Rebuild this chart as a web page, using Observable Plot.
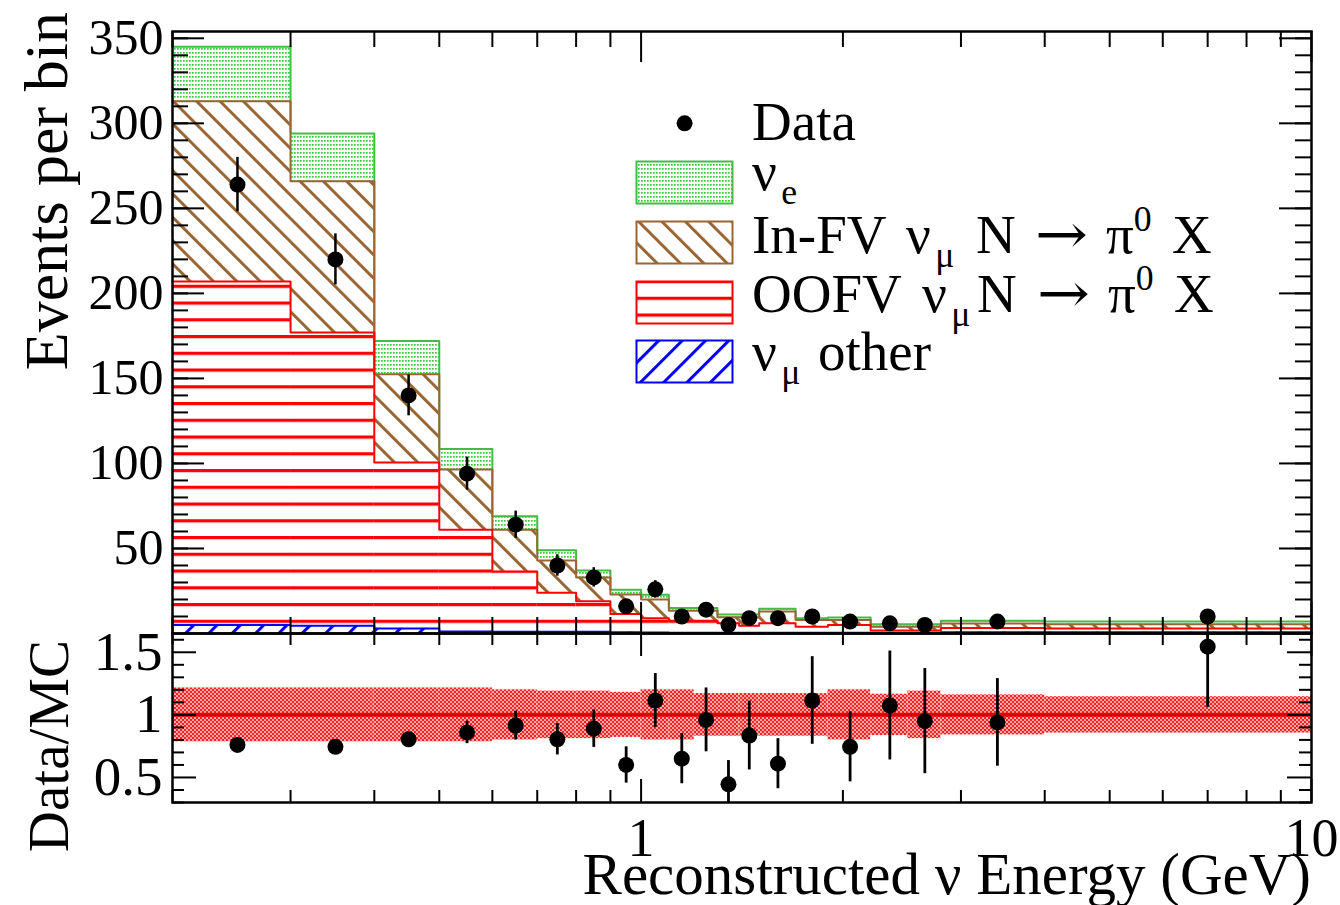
<!DOCTYPE html>
<html>
<head>
<meta charset="utf-8">
<script src="https://cdn.jsdelivr.net/npm/d3@7"></script>
<script src="https://cdn.jsdelivr.net/npm/@observablehq/plot@0.6"></script>
<style>
html, body { margin: 0; padding: 0; background: #fff; }
#wrap { position: relative; width: 1340px; height: 905px; overflow: hidden; background: #fff;
        font-family: "Liberation Serif", "Times New Roman", serif; color: #000; }
.abs { position: absolute; white-space: nowrap; line-height: 1; }
.lg { font-size: 55px; }
.sub { font-size: 0.65em; position: relative; top: 0.38em; margin-left: 0.12em; }
.sup { font-size: 0.65em; position: relative; top: -0.62em; }
.arr { font-family: "DejaVu Serif", serif; display: inline-block; transform-origin: 0 50%; transform: scaleX(1.15); }
.rot { transform-origin: 0 0; transform: rotate(-90deg); width: 600px; text-align: right; }
</style>
</head>
<body>
<div id="wrap">
  <svg width="0" height="0" style="position:absolute;left:0;top:0">
    <defs>
      <pattern id="pGreen" patternUnits="userSpaceOnUse" width="3" height="4">
        <rect x="0" y="0" width="1.7" height="1.7" fill="#33cc33"/>
      </pattern>
      <pattern id="pBrown" patternUnits="userSpaceOnUse" width="16.5" height="16.5" patternTransform="rotate(-45)">
        <rect x="0" y="0" width="3" height="16.5" fill="#996633"/>
      </pattern>
      <pattern id="pRed" patternUnits="userSpaceOnUse" width="20" height="16.75">
        <rect x="0" y="0" width="20" height="3.2" fill="#ff0000"/>
      </pattern>
      <pattern id="pBlue" patternUnits="userSpaceOnUse" width="16.5" height="16.5" patternTransform="rotate(45)">
        <rect x="0" y="0" width="3" height="16.5" fill="#0000ff"/>
      </pattern>
      <pattern id="ratioBandChecker" patternUnits="userSpaceOnUse" width="4" height="4">
        <rect x="0" y="0" width="4" height="4" fill="#ffaaaa"/>
        <rect x="0" y="0" width="2" height="2" fill="#ff2020"/>
        <rect x="2" y="2" width="2" height="2" fill="#ff2020"/>
      </pattern>
    </defs>
  </svg>
  <div id="topPlot" style="position:absolute;left:0;top:0"></div>
  <div id="bottomPlot" style="position:absolute;left:0;top:633px"></div>

  <!-- axis titles -->
  <div class="abs rot" style="left:15px;top:612px;font-size:62px">Events per bin</div>
  <div class="abs rot" style="left:20px;top:1240px;font-size:57px">Data/MC</div>
  <div class="abs" style="right:29px;top:845px;font-size:59px">Reconstructed ν Energy (GeV)</div>

  <!-- legend -->
  <svg class="abs" style="left:670px;top:109px" width="30" height="30"><circle cx="14.6" cy="14.3" r="8" fill="#000"/></svg>
  <div class="abs lg" style="left:752px;top:94px">Data</div>

  <svg class="abs" style="left:635px;top:160px" width="100" height="46"><rect x="1.5" y="1.5" width="96" height="42" fill="url(#pGreen)" stroke="#44bb44" stroke-width="2"/></svg>
  <div class="abs lg" style="left:752px;top:144px">ν<span class="sub">e</span></div>

  <svg class="abs" style="left:635px;top:220px" width="100" height="46"><rect x="1.5" y="1.5" width="96" height="42" fill="url(#pBrown)" stroke="#996633" stroke-width="2"/></svg>
  <div class="abs lg" style="left:752px;top:207px">In-FV</div>
  <div class="abs lg" style="left:906px;top:207px">ν<span class="sub">μ</span></div>
  <div class="abs lg" style="left:976px;top:207px">N</div>
  <div class="abs lg" style="left:1035px;top:207px"><span class="arr">→</span></div>
  <div class="abs lg" style="left:1106px;top:207px">π<span class="sup">0</span></div>
  <div class="abs lg" style="left:1172px;top:207px">X</div>

  <svg class="abs" style="left:635px;top:280px" width="100" height="46"><rect x="1.5" y="1.5" width="96" height="42" fill="url(#pRed)" stroke="#ff0000" stroke-width="2"/></svg>
  <div class="abs lg" style="left:752px;top:266px">OOFV</div>
  <div class="abs lg" style="left:922px;top:266px">ν<span class="sub">μ</span></div>
  <div class="abs lg" style="left:977px;top:266px">N</div>
  <div class="abs lg" style="left:1037px;top:266px"><span class="arr">→</span></div>
  <div class="abs lg" style="left:1108px;top:266px">π<span class="sup">0</span></div>
  <div class="abs lg" style="left:1174px;top:266px">X</div>

  <svg class="abs" style="left:635px;top:339px" width="100" height="46"><rect x="1.5" y="1.5" width="96" height="42" fill="url(#pBlue)" stroke="#0000ff" stroke-width="2"/></svg>
  <div class="abs lg" style="left:752px;top:324px">ν<span class="sub">μ</span></div>
  <div class="abs lg" style="left:818px;top:324px">other</div>
</div>

<script>
// ---------------- data ----------------
const binEdges = [0.2, 0.3, 0.4, 0.5, 0.6, 0.7, 0.8, 0.9, 1.0, 1.1, 1.2, 1.3, 1.4, 1.5, 1.7, 1.9, 2.2, 2.5, 2.8, 4.0, 10];

// stacked MC components (events per bin), bottom to top
const numuOther = [5, 4.5, 3, 1.2, 1, 1, 1, 0.8, 0.6, 0.5, 0.5, 0.5, 0.5, 0.5, 0.5, 0.5, 0.5, 0.5, 0.8, 0.7];
const oofvPi0   = [202, 172.5, 97.5, 59.8, 35.5, 23, 18, 10.7, 8.4, 7, 7, 5.5, 4, 5.5, 3.5, 4.5, 1.3, 1.3, 2.4, 2.3];
const infvPi0   = [106, 89, 52, 35.5, 24.5, 19, 14, 11.5, 11, 5.9, 5.9, 3.5, 5, 7, 4, 3, 2.2, 2.2, 2.7, 2.5];
const nue       = [32, 28, 19.5, 12, 8, 6, 4, 2.7, 2.8, 1.6, 1.6, 1.7, 1.7, 1.5, 1, 1.4, 1.5, 1.5, 1.6, 1.5];

// data points
const dataEnergy = [0.25, 0.35, 0.45, 0.55, 0.65, 0.75, 0.85, 0.95, 1.05, 1.15, 1.25, 1.35, 1.45, 1.6, 1.8, 2.05, 2.35, 2.65, 3.4, 7.0];
const dataCounts = [264, 220, 140, 94, 64, 40, 33, 16, 26, 10, 14, 5, 9, 9, 10, 7, 6, 5, 7, 10];
const dataErrors = [16, 15, 12, 9.7, 8, 6.3, 5.7, 4, 5.1, 3.2, 3.7, 2.2, 3, 3, 3.2, 2.7, 2.4, 2.2, 2.7, 3.1];

// ratio panel
const ratioValues = [0.76, 0.745, 0.805, 0.86, 0.915, 0.805, 0.89, 0.6, 1.115, 0.65, 0.96, 0.445, 0.835, 0.61, 1.115, 0.745, 1.075, 0.95, 0.94, 1.545];
const ratioErrors = [0.045, 0.05, 0.055, 0.09, 0.115, 0.125, 0.15, 0.145, 0.215, 0.2, 0.255, 0.19, 0.275, 0.2, 0.35, 0.28, 0.435, 0.42, 0.35, 0.485];
const mcBandHalfWidth = [0.215, 0.215, 0.215, 0.215, 0.2, 0.19, 0.19, 0.18, 0.2, 0.2, 0.17, 0.17, 0.17, 0.17, 0.17, 0.2, 0.165, 0.19, 0.16, 0.145];

// axes
const xDomain = [0.2, 10];
const xMinorTicks = [0.2, 0.3, 0.4, 0.5, 0.6, 0.7, 0.8, 0.9, 2, 3, 4, 5, 6, 7, 8, 9];
const xMajorTicks = [1, 10];
const xTickLabels = ["1", "10"];
const topYDomain = [0, 354];
const topYMajorTicks = [50, 100, 150, 200, 250, 300, 350];
const topYTickLabels = ["50", "100", "150", "200", "250", "300", "350"];
const topYMinorTicks = d3.range(10, 351, 10);
const ratioYDomain = [0.3, 1.65];
const ratioYMajorTicks = [0.5, 1, 1.5];
const ratioYTickLabels = ["0.5", "1", "1.5"];
const ratioYMinorTicks = [0.3, 0.4, 0.6, 0.7, 0.8, 0.9, 1.1, 1.2, 1.3, 1.4, 1.6];

// ---------------- layout ----------------
const WIDTH = 1340, ML = 172, MR = 29;
const PW = WIDTH - ML - MR;
const TOP_H = 634, TOP_MT = 31, TOP_MB = 1;
const TOP_PH = TOP_H - TOP_MT - TOP_MB;
const BOT_H = 272, BOT_MT = 0, BOT_MB = 103;
const BOT_PH = BOT_H - BOT_MT - BOT_MB;
const FONT = "Liberation Serif";

// ---------------- build tables ----------------
const comps = [
  {values: numuOther, fill: "url(#pBlue)",  stroke: "#0000ff"},
  {values: oofvPi0,   fill: "url(#pRed)",   stroke: "#ff0000"},
  {values: infvPi0,   fill: "url(#pBrown)", stroke: "#996633"},
  {values: nue,       fill: "url(#pGreen)", stroke: "#44bb44"}
];
let base = binEdges.slice(1).map(() => 0);
const layers = comps.map(c => {
  const rows = c.values.map((v, i) => ({x1: binEdges[i], x2: binEdges[i + 1], y1: base[i], y2: base[i] + v}));
  base = rows.map(r => r.y2);
  return {...c, rows};
});
const stepPoints = rows => [...rows.map(r => ({x: r.x1, y: r.y2})), {x: rows[rows.length - 1].x2, y: rows[rows.length - 1].y2}];

const dataRows = dataEnergy.map((e, i) => ({e, n: dataCounts[i], err: dataErrors[i]}));
const ratioRows = dataEnergy.map((e, i) => ({e, r: ratioValues[i], err: ratioErrors[i]}));
const bandRows = mcBandHalfWidth.map((h, i) => ({x1: binEdges[i], x2: binEdges[i + 1], y1: 1 - h, y2: 1 + h}));

function tickMarks(yMajor, yMinor, yMajLen, yMinLen, ph, xMajLen, xMinLen) {
  const s = {stroke: "black", strokeWidth: 2};
  return [
    Plot.tickY(yMinor, {y: d => d, insetRight: PW - yMinLen, ...s}),
    Plot.tickY(yMinor, {y: d => d, insetLeft: PW - yMinLen, ...s}),
    Plot.tickY(yMajor, {y: d => d, insetRight: PW - yMajLen, ...s}),
    Plot.tickY(yMajor, {y: d => d, insetLeft: PW - yMajLen, ...s}),
    Plot.tickX(xMinorTicks, {x: d => d, insetTop: ph - xMinLen, ...s}),
    Plot.tickX(xMinorTicks, {x: d => d, insetBottom: ph - xMinLen, ...s}),
    Plot.tickX(xMajorTicks, {x: d => d, insetTop: ph - xMajLen, ...s}),
    Plot.tickX(xMajorTicks, {x: d => d, insetBottom: ph - xMajLen, ...s})
  ];
}

// ---------------- top panel ----------------
const topPlot = Plot.plot({
  width: WIDTH, height: TOP_H,
  marginLeft: ML, marginRight: MR, marginTop: TOP_MT, marginBottom: TOP_MB,
  style: {background: "transparent", overflow: "visible", fontFamily: FONT},
  x: {type: "log", domain: xDomain, axis: null},
  y: {domain: topYDomain, axis: null},
  marks: [
    ...layers.map(l => Plot.rect(l.rows, {x1: "x1", x2: "x2", y1: "y1", y2: "y2", fill: l.fill})),
    ...layers.slice().reverse().map(l => Plot.line(stepPoints(l.rows), {x: "x", y: "y", curve: "step-after", stroke: l.stroke, strokeWidth: 2})),
    Plot.ruleX(dataRows, {x: "e", y1: d => d.n - d.err, y2: d => d.n + d.err, stroke: "black", strokeWidth: 2.5}),
    Plot.dot(dataRows, {x: "e", y: "n", r: 8, fill: "black"}),
    ...tickMarks(topYMajorTicks, topYMinorTicks, 32, 16, TOP_PH, 31, 16),
    Plot.frame({stroke: "black", strokeWidth: 2.5}),
    Plot.text(topYMajorTicks, {y: d => d, text: (d, i) => topYTickLabels[i], frameAnchor: "left", textAnchor: "end", dx: -9, fontSize: 50, fontFamily: FONT, fill: "black"})
  ]
});
document.getElementById("topPlot").appendChild(topPlot);

// ---------------- ratio panel ----------------
const botPlot = Plot.plot({
  width: WIDTH, height: BOT_H,
  marginLeft: ML, marginRight: MR, marginTop: BOT_MT, marginBottom: BOT_MB,
  style: {background: "transparent", overflow: "visible", fontFamily: FONT},
  x: {type: "log", domain: xDomain, axis: null},
  y: {domain: ratioYDomain, axis: null},
  marks: [
    Plot.rect(bandRows, {x1: "x1", x2: "x2", y1: "y1", y2: "y2", fill: "url(#ratioBandChecker)"}),
    Plot.ruleY([1], {stroke: "#dd0000", strokeWidth: 4}),
    Plot.ruleX(ratioRows, {x: "e", y1: d => Math.max(d.r - d.err, ratioYDomain[0]), y2: d => Math.min(d.r + d.err, ratioYDomain[1]), stroke: "black", strokeWidth: 2.8}),
    Plot.dot(ratioRows, {x: "e", y: "r", r: 8, fill: "black"}),
    ...tickMarks(ratioYMajorTicks, ratioYMinorTicks, 24, 12, BOT_PH, 23, 12),
    Plot.frame({stroke: "black", strokeWidth: 2.5}),
    Plot.text(ratioYMajorTicks, {y: d => d, text: (d, i) => ratioYTickLabels[i], frameAnchor: "left", textAnchor: "end", dx: -10, fontSize: 55, fontFamily: FONT, fill: "black"}),
    Plot.text(xMajorTicks, {x: d => d, text: (d, i) => xTickLabels[i], frameAnchor: "bottom", lineAnchor: "top", dy: 15, fontSize: 54, fontFamily: FONT, fill: "black"})
  ]
});
document.getElementById("bottomPlot").appendChild(botPlot);
</script>
</body>
</html>
